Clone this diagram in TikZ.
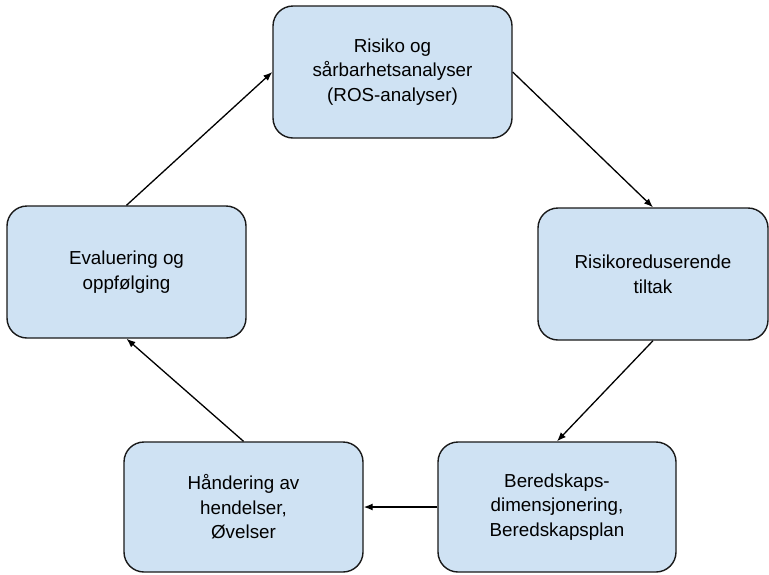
\documentclass[tikz,border=0pt]{standalone}
\usepackage{fontspec}
\setmainfont{Liberation Sans}
\usetikzlibrary{arrows.meta}
\definecolor{boksblaa}{HTML}{CFE2F3}
\tikzset{
    boks/.style={draw=black!90, line width=1.4pt, fill=boksblaa, rounded corners=20pt,
        minimum width=239pt, minimum height=132pt, inner sep=0pt, align=center,
        font=\fontsize{18.8}{24.6}\selectfont},
    pil/.style={line width=1.3pt, -{Latex[length=9pt,width=7pt]}}
}

\begin{document}
\begin{tikzpicture}[x=1pt, y=-1pt]
    \useasboundingbox (0,0) rectangle (769,574);
    \node[boks] (risiko) at (392.5,72) {Risiko og\\sårbarhetsanalyser\\(ROS-analyser)};
    \node[boks, minimum width=230pt] (tiltak) at (653,274) {Risikoreduserende\\tiltak};
    \node[boks, minimum width=238pt, minimum height=130pt] (beredskap) at (557,507) {Beredskaps-\\dimensjonering,\\Beredskapsplan};
    \node[boks, minimum height=130pt] (handering) at (243.5,507) {Håndering av\\hendelser,\\Øvelser};
    \node[boks] (evaluering) at (126.5,272) {Evaluering og\\oppfølging};
    \draw[pil] (evaluering.north) -- (risiko.west);
    \draw[pil] (risiko.east) -- (tiltak.north);
    \draw[pil] (tiltak.south) -- (beredskap.north);
    \draw[pil] (beredskap.west) -- (handering.east);
    \draw[pil] (handering.north) -- (evaluering.south);
\end{tikzpicture}
\end{document}
